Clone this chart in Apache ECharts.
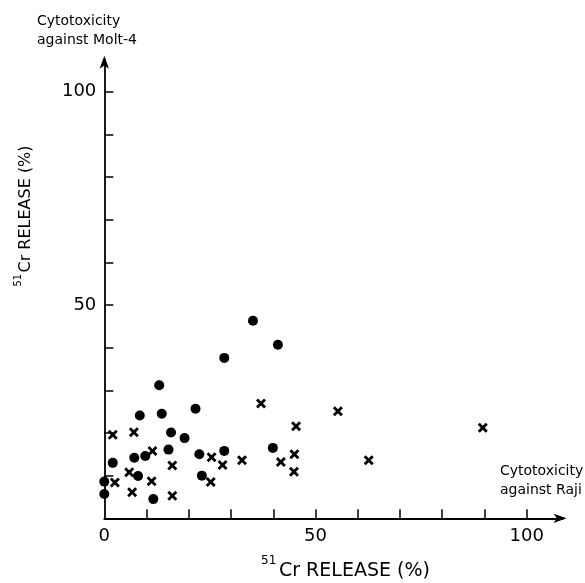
<!DOCTYPE html>
<html>
<head>
<meta charset="utf-8">
<script src="https://cdn.jsdelivr.net/npm/echarts@6/dist/echarts.min.js"></script>
<style>
html,body{margin:0;padding:0;background:#fff;}
#chart{width:585px;height:583px;}
</style>
</head>
<body>
<div id="chart"></div>
<script>
// Cytotoxicity against Raji (x) vs Molt-4 (y), 51Cr release %
const circleX = [35.2, 41.1, 28.4, 13.0, 21.6, 13.6, 8.4, 15.8, 19.0, 15.2, 9.7, 7.1, 2.0, 22.5, 28.4, 39.9, 8.0, 23.1, 0, 0, 11.6];
const circleY = [46.3, 40.7, 37.6, 31.2, 25.7, 24.5, 24.1, 20.1, 18.8, 16.1, 14.6, 14.2, 13.0, 15.0, 15.8, 16.5, 9.9, 10.0, 8.6, 5.7, 4.5];
const crossX = [37.1, 45.4, 55.3, 2.0, 7.0, 11.4, 25.4, 16.1, 28.0, 32.6, 41.8, 45.0, 44.9, 5.9, 2.5, 11.2, 25.2, 6.6, 16.1, 62.6, 89.6];
const crossY = [26.9, 21.6, 25.1, 19.6, 20.2, 15.8, 14.3, 12.4, 12.5, 13.6, 13.2, 15.0, 10.9, 10.8, 8.4, 8.7, 8.5, 6.1, 5.3, 13.6, 21.2];
const xTickLabels = [0, 50, 100];
const yTickLabels = [50, 100];
const minorTicks = [10, 20, 30, 40, 50, 60, 70, 80, 90, 100];

const FONT = 'DejaVu Sans';
const crossPath = 'path://M0,2L2,0L5,3L8,0L10,2L7,5L10,8L8,10L5,7L2,10L0,8L3,5Z';

const chart = echarts.init(document.getElementById('chart'), null, {renderer: 'canvas'});
const axisCommon = {
  type: 'value',
  min: 0,
  splitLine: {show: false},
  axisLine: {show: true, lineStyle: {color: '#000', width: 1.8}, symbol: ['none', 'arrow'], symbolSize: [7, 13], symbolOffset: [0, 4]},
  axisTick: {show: true, inside: true, length: 9, customValues: minorTicks, lineStyle: {color: '#000', width: 1.5}},
};
chart.setOption({
  animation: false,
  backgroundColor: '#fff',
  grid: {left: 104.3, right: 22.4, top: 59.7, bottom: 64.7, containLabel: false},
  xAxis: Object.assign({}, axisCommon, {
    max: 108.5,
    axisLabel: {customValues: xTickLabels, fontFamily: FONT, fontSize: 18, color: '#000', margin: 9}
  }),
  yAxis: Object.assign({}, axisCommon, {
    max: 107.5,
    axisLabel: {customValues: yTickLabels, fontFamily: FONT, fontSize: 18, color: '#000', margin: 8}
  }),
  series: [
    {type: 'scatter', name: 'circle', symbol: 'circle', symbolSize: 10,
     itemStyle: {color: '#000', opacity: 1},
     data: circleX.map((v, i) => [v, circleY[i]])},
    {type: 'scatter', name: 'cross', symbol: crossPath, symbolSize: 10,
     itemStyle: {color: '#000', opacity: 1},
     data: crossX.map((v, i) => [v, crossY[i]])}
  ],
  graphic: [
    {type: 'text', left: 37, top: 12, style: {text: 'Cytotoxicity\nagainst Molt-4', font: '14px "DejaVu Sans"', fill: '#000', lineHeight: 19}},
    {type: 'text', left: 500, top: 462, style: {text: 'Cytotoxicity\nagainst Raji', font: '14px "DejaVu Sans"', fill: '#000', lineHeight: 19}},
    {type: 'text', x: 261, y: 567, style: {text: '51', font: '12px "DejaVu Sans"', fill: '#000', textVerticalAlign: 'bottom', textAlign: 'left'}},
    {type: 'text', x: 279, y: 581, style: {text: 'Cr RELEASE (%)', font: '19px "DejaVu Sans"', fill: '#000', textVerticalAlign: 'bottom', textAlign: 'left'}},
    {type: 'group', x: 34, y: 219.5, rotation: Math.PI / 2, children: [
      {type: 'text', x: -67, y: -11, style: {text: '51', font: '10px "DejaVu Sans"', fill: '#000', textVerticalAlign: 'bottom', textAlign: 'left'}},
      {type: 'text', x: -53, y: 0, style: {text: 'Cr RELEASE (%)', font: '16px "DejaVu Sans"', fill: '#000', textVerticalAlign: 'bottom', textAlign: 'left'}}
    ]}
  ]
});
</script>
</body>
</html>
